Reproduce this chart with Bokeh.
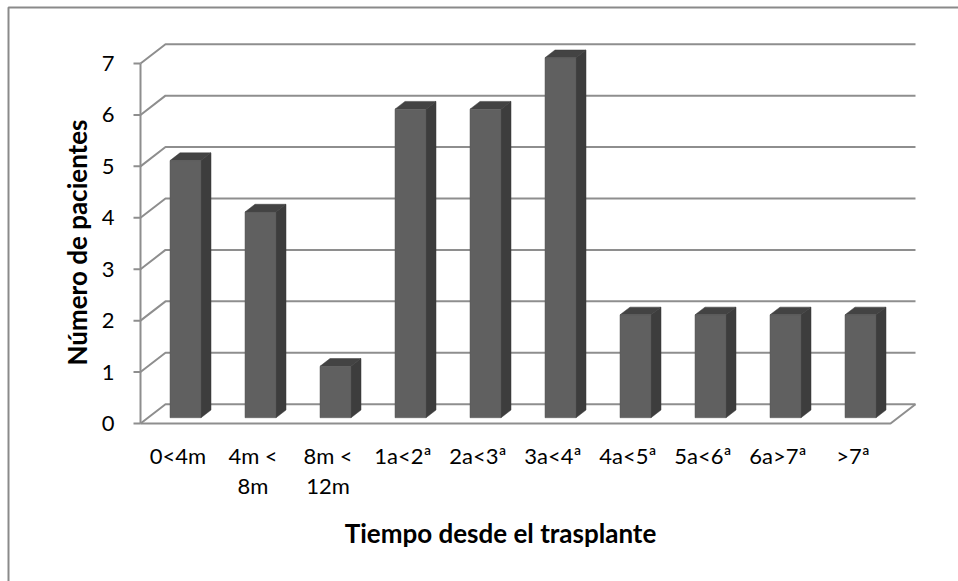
import math
from bokeh.plotting import figure
from bokeh.models import Range1d
from bokeh.core.properties import value
from bokeh.embed import file_html
from bokeh.resources import INLINE

# ---- data ----
categories = ["0<4m", "4m <\n8m", "8m <\n12m", "1a<2ª", "2a<3ª", "3a<4ª",
              "4a<5ª", "5a<6ª", "6a>7ª", ">7ª"]
patients = [5, 4, 1, 6, 6, 7, 2, 2, 2, 2]
y_ticks = [0, 1, 2, 3, 4, 5, 6, 7]
x_title = "Tiempo desde el trasplante"
y_title = "Número de pacientes"

# ---- layout / scale (styling) ----
W, H = 958, 581
X0_PX, Y0_PX = 140, 423          # pixel position of (0, 0) front corner
PX_PER_CAT = 75.0
PX_PER_UNIT = 360.0 / 7.0
FONT = "Lato"

def dx(px):
    return px / PX_PER_CAT

def dy(px):
    return px / PX_PER_UNIT

def xp(px):   # pixel x -> data x
    return (px - X0_PX) / PX_PER_CAT

def yp(py):   # pixel y (from top) -> data y
    return (Y0_PX - py) / PX_PER_UNIT

DEP_X, DEP_Y = dx(25), dy(19.3)   # full depth offset
n = len(categories)
ymax = max(y_ticks)

p = figure(width=W, height=H, output_backend="svg", toolbar_location=None,
           x_range=Range1d(xp(0), xp(W)), y_range=Range1d(yp(H), yp(0)),
           x_axis_location=None, y_axis_location=None, min_border=0,
           background_fill_color="white", border_fill_color="white")
p.outline_line_color = None
p.xgrid.visible = False
p.ygrid.visible = False

GRID = "#8e8e8e"

# chart border (cut at right/bottom)
p.line([xp(8), xp(8), xp(W + 5)], [yp(H + 5), yp(7), yp(7)],
       line_color="#8a8a8a", line_width=2)

# gridlines: front-left -> back-left -> back-right
gx, gy = [], []
for k in y_ticks:
    gx.append([0, DEP_X, n + DEP_X])
    gy.append([k, k + DEP_Y, k + DEP_Y])
# floor front edge and right edge
gx.append([0, n, n + DEP_X])
gy.append([0, 0, DEP_Y])
# front axis line
gx.append([0, 0])
gy.append([0, ymax])
p.multi_line(gx, gy, line_color=GRID, line_width=2)

# tick marks
p.segment(x0=[dx(-7)] * len(y_ticks), y0=y_ticks, x1=[0] * len(y_ticks), y1=y_ticks,
          line_color=GRID, line_width=2)

# 3D bars
bw = dx(31)
f0, f1 = 0.3, 0.7
front_x, front_y, side_x, side_y, top_x, top_y = [], [], [], [], [], []
for i, v in enumerate(patients):
    cx = i + 0.5 + f0 * DEP_X
    xl, xr = cx - bw / 2, cx + bw / 2
    yb, yt = f0 * DEP_Y, v + f0 * DEP_Y
    d = f1 - f0
    ox, oy = d * DEP_X, d * DEP_Y
    front_x.append([xl, xr, xr, xl]); front_y.append([yb, yb, yt, yt])
    side_x.append([xr, xr + ox, xr + ox, xr]); side_y.append([yb, yb + oy, yt + oy, yt])
    top_x.append([xl, xr, xr + ox, xl + ox]); top_y.append([yt, yt, yt + oy, yt + oy])

p.patches(side_x, side_y, fill_color="#3d3d3d", line_color="#3a3a3a", line_width=0.5)
p.patches(top_x, top_y, fill_color="#434343", line_color="#3a3a3a", line_width=0.5)
p.patches(front_x, front_y, fill_color="#606060", line_color="#555555", line_width=0.5)

# y tick labels
p.text(x=[xp(114)] * len(y_ticks), y=y_ticks, text=[str(t) for t in y_ticks],
       text_align="right", text_baseline="middle", text_font=value(FONT),
       text_font_size="22px", text_color="#000000")

# category labels
p.text(x=[i + 0.5 for i in range(n)], y=[yp(441)] * n, text=categories,
       text_align="center", text_baseline="top", text_font=value(FONT),
       text_font_size="22px", text_color="#000000", text_line_height=1.12)

# axis titles
p.text(x=[xp(500)], y=[yp(532)], text=[x_title], text_align="center",
       text_baseline="alphabetic", text_font=value(FONT), text_font_size="26px",
       text_font_style="bold", text_color="#000000")
p.text(x=[xp(76)], y=[yp(242)], text=[y_title], text_align="center",
       text_baseline="alphabetic", angle=math.pi / 2, text_font=value(FONT),
       text_font_size="26px", text_font_style="bold", text_color="#000000")

open("out.html", "w").write(file_html(p, INLINE))
